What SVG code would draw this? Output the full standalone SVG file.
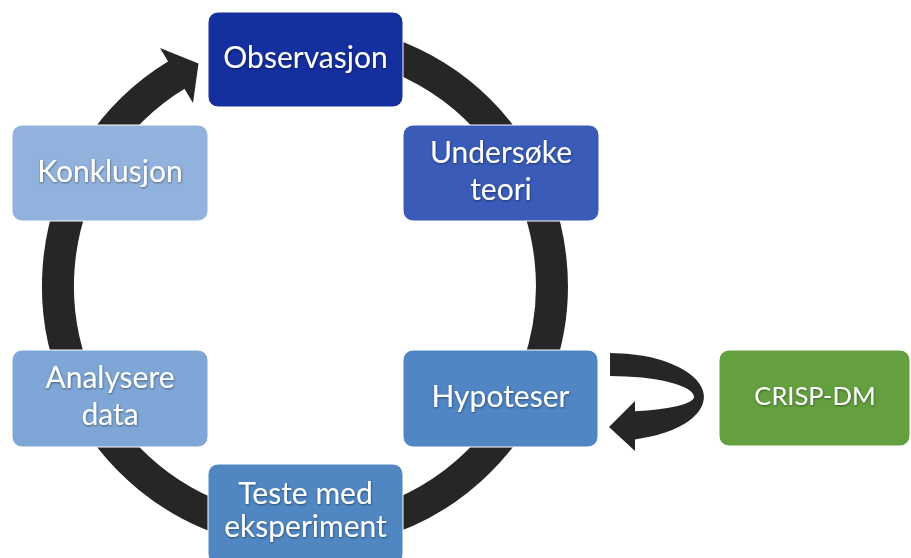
<svg xmlns="http://www.w3.org/2000/svg" width="911" height="558" viewBox="0 0 911 558">
  <defs>
    <filter id="txtShadow" x="-10%" y="-30%" width="120%" height="160%">
      <feDropShadow dx="0.5" dy="1" stdDeviation="1.2" flood-color="#000" flood-opacity="0.45"/>
    </filter>
  </defs>
  <style>
    .box { stroke: #ffffff; stroke-width: 1; }
    .lbl { font-family: Lato, "Open Sans", "Liberation Sans", sans-serif; font-size: 30px; fill: #ffffff; text-anchor: middle; filter: url(#txtShadow); }
    .small { font-size: 25.5px; }
    .ring { fill: none; stroke: #262626; stroke-width: 32; }
    .solid { fill: #262626; }
  </style>
  <rect width="911" height="558" fill="#ffffff"/>

  <!-- cycle ring and its arrows -->
  <g id="connectors">
    <path class="ring" d="M 176.7 74.9 A 247 247 0 1 0 305 39"/>
    <polygon class="solid" points="160,48 198.5,63.4 193,103"/>
    <!-- side loop between Hypoteser and CRISP-DM -->
    <path class="solid" d="M 610 353 A 94 44 0 0 1 635 439.4 L 635 451 L 609 427 L 635 401 L 635 411.3 A 84 15 0 0 0 694 397 A 84 21 0 0 0 610 376 Z"/>
  </g>

  <g id="observasjon">
    <rect class="box" x="208" y="12" width="195" height="95" rx="10" fill="#142F9E"/>
    <text class="lbl" x="305.5" y="68">Observasjon</text>
  </g>
  <g id="undersoke-teori">
    <rect class="box" x="403" y="125" width="196" height="96" rx="10" fill="#3A5CB8"/>
    <text class="lbl" x="501" y="163">Undersøke</text>
    <text class="lbl" x="501" y="200">teori</text>
  </g>
  <g id="hypoteser">
    <rect class="box" x="403" y="350" width="195" height="97" rx="10" fill="#5086C4"/>
    <text class="lbl" x="500.5" y="407">Hypoteser</text>
  </g>
  <g id="teste-med-eksperiment">
    <rect class="box" x="208" y="464" width="195" height="100" rx="10" fill="#5087C3"/>
    <text class="lbl" x="305.5" y="504">Teste med</text>
    <text class="lbl" x="305.5" y="537">eksperiment</text>
  </g>
  <g id="analysere-data">
    <rect class="box" x="12" y="350" width="196" height="97" rx="10" fill="#7EA6D6"/>
    <text class="lbl" x="110" y="388">Analysere</text>
    <text class="lbl" x="110" y="425">data</text>
  </g>
  <g id="konklusjon">
    <rect class="box" x="12" y="125" width="196" height="96" rx="10" fill="#91B2DC"/>
    <text class="lbl" x="110" y="182">Konklusjon</text>
  </g>
  <g id="crisp-dm">
    <rect class="box" x="719" y="350" width="191" height="96" rx="10" fill="#64A03F"/>
    <text class="lbl small" x="815" y="405">CRISP-DM</text>
  </g>
</svg>
